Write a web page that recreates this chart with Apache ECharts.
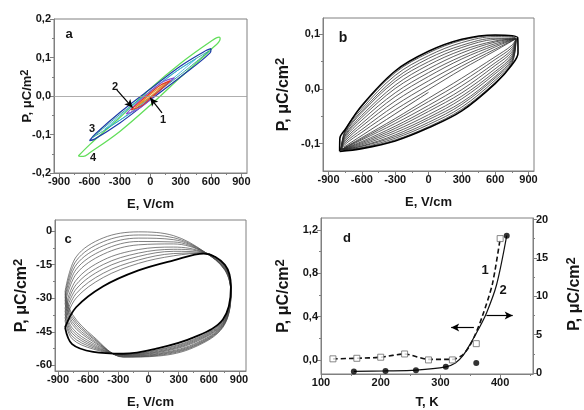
<!DOCTYPE html>
<html>
<head>
<meta charset="utf-8">
<script src="https://cdn.jsdelivr.net/npm/echarts@6/dist/echarts.min.js"></script>
<style>
  html, body { margin: 0; padding: 0; background: #fff; }
  #chart { width: 584px; height: 410px; }
</style>
</head>
<body>
<div id="chart"></div>
<script>
// ---------- panel a: P(E) loops for four field amplitudes ----------
const aLoopGreen = [[-710,-0.156],[-600,-0.127],[-300,-0.056],[0,0.019],[300,0.085],[600,0.142],[680,0.153],
  [690,0.149],[600,0.121],[300,0.049],[0,-0.024],[-300,-0.092],[-600,-0.148],[-660,-0.157],[-710,-0.156]];
const aLoopBlue = [[-600,-0.116],[-540,-0.098],[-300,-0.043],[0,0.018],[300,0.078],[550,0.118],[600,0.123],
  [590,0.112],[300,0.050],[0,-0.010],[-300,-0.070],[-550,-0.112],[-600,-0.116]];
const aLoopTeal = [[-570,-0.108],[-300,-0.048],[0,0.012],[300,0.072],[580,0.117],
  [300,0.056],[0,-0.004],[-300,-0.063],[-570,-0.108]];
const aLoopCyan = [[-450,-0.086],[-200,-0.030],[0,0.012],[200,0.054],[450,0.096],
  [200,0.040],[0,-0.004],[-200,-0.046],[-450,-0.086]];
const aLoopPurple = [[-240,-0.047],[-120,-0.016],[0,0.012],[120,0.036],[240,0.047],
  [120,0.020],[0,-0.010],[-120,-0.034],[-240,-0.047]];
const aLoopOrange = [[-150,-0.030],[0,0.004],[160,0.034],[0,-0.002],[-150,-0.030]];
const aLoopRed = [[-190,-0.036],[-90,-0.012],[0,0.008],[100,0.028],[200,0.040],
  [100,0.016],[0,-0.006],[-90,-0.026],[-190,-0.036]];
const aArrowOne = [[116,-0.044],[0,-0.005]];
const aArrowTwo = [[-330,0.016],[-175,-0.030]];

// ---------- panel b: nested loops, growing opening ----------
const bUpperE = [-750, -600, -300, 0, 300, 600];
const bLowerE = [750, 600, 300, 0, -300, -600];
const bUpperP = [
  [-0.101,-0.079,-0.038,-0.001,0.036,0.070],
  [-0.098,-0.074,-0.030,0.007,0.042,0.073],
  [-0.095,-0.068,-0.022,0.015,0.048,0.077],
  [-0.092,-0.063,-0.014,0.023,0.055,0.080],
  [-0.089,-0.057,-0.007,0.030,0.060,0.083],
  [-0.086,-0.052,0.001,0.037,0.066,0.086],
  [-0.084,-0.048,0.007,0.044,0.071,0.088],
  [-0.081,-0.043,0.014,0.050,0.076,0.091],
  [-0.079,-0.040,0.019,0.056,0.080,0.093],
  [-0.077,-0.036,0.025,0.061,0.085,0.096],
  [-0.075,-0.032,0.030,0.066,0.089,0.098],
  [-0.074,-0.030,0.033,0.069,0.091,0.099]
];
const bLowerP = [
  [0.080,0.059,0.020,-0.017,-0.054,-0.089],
  [0.076,0.054,0.013,-0.023,-0.058,-0.091],
  [0.072,0.048,0.006,-0.030,-0.063,-0.093],
  [0.068,0.043,-0.001,-0.036,-0.068,-0.096],
  [0.064,0.037,-0.007,-0.041,-0.072,-0.098],
  [0.060,0.032,-0.013,-0.047,-0.076,-0.100],
  [0.057,0.028,-0.018,-0.052,-0.080,-0.102],
  [0.054,0.023,-0.024,-0.056,-0.084,-0.104],
  [0.051,0.020,-0.028,-0.061,-0.087,-0.105],
  [0.048,0.016,-0.033,-0.065,-0.090,-0.107],
  [0.046,0.012,-0.037,-0.069,-0.093,-0.108],
  [0.044,0.010,-0.040,-0.071,-0.095,-0.109]
];
const bTipLeft = [-788, -0.111];
const bTipRight = [788, 0.092];
const bOuterTipLeft = [-800, -0.114];
const bOuterTipRight = [803, 0.094];
const bOuterRightEdge = [806, 0.066];
const bOuterLeftEdge = [-798, -0.090];
const bStartSweep = [[0,-0.006],[-760,-0.106]];

// ---------- panel c: successive cycles drifting in P ----------
const cE = [-830,-720,-450,-100,250,550,760,820,740,450,100,-250,-550,-760];
const cThinP = [
  [-27.0,-11.5,-3.0,-0.3,-2.0,-9.0,-17.5,-28.0,-43.0,-52.0,-55.8,-56.3,-47.0,-37.0],
  [-28.3,-13.3,-4.7,-1.7,-2.9,-9.1,-17.3,-27.8,-42.7,-51.6,-55.5,-56.2,-47.6,-38.1],
  [-29.6,-15.1,-6.5,-3.1,-3.8,-9.2,-17.1,-27.5,-42.4,-51.3,-55.2,-56.1,-48.1,-39.2],
  [-31.0,-17.1,-8.4,-4.6,-4.8,-9.3,-16.9,-27.3,-42.1,-50.9,-54.9,-55.9,-48.8,-40.4],
  [-32.4,-19.2,-10.3,-6.1,-5.7,-9.3,-16.7,-27.0,-41.8,-50.5,-54.6,-55.8,-49.4,-41.6],
  [-34.4,-21.9,-12.9,-8.2,-7.1,-9.5,-16.4,-26.6,-41.4,-49.9,-54.2,-55.6,-50.2,-43.2],
  [-35.8,-23.9,-14.9,-9.8,-8.1,-9.6,-16.1,-26.4,-41.1,-49.5,-53.9,-55.5,-50.9,-44.4],
  [-37.2,-25.9,-16.8,-11.3,-9.0,-9.6,-15.9,-26.1,-40.8,-49.1,-53.6,-55.3,-51.5,-45.6],
  [-38.7,-27.9,-18.8,-12.9,-10.0,-9.7,-15.7,-25.8,-40.4,-48.7,-53.2,-55.2,-52.1,-46.9],
  [-40.1,-29.9,-20.7,-14.4,-11.0,-9.8,-15.5,-25.5,-40.1,-48.3,-52.9,-55.1,-52.7,-48.1]
];
const cBoldP = [-43.0,-34.0,-24.6,-17.5,-13.0,-10.0,-15.0,-25.0,-39.5,-47.5,-52.3,-54.8,-54.0,-50.5];

// ---------- panel d: temperature dependences ----------
const dSquareT = [120,160,200,240,280,320,360,400];
const dSquareP = [0.010,0.015,0.025,0.055,0.000,0.000,0.150,1.120];
const dDashT = [120,160,200,240,280,320,337,349,358,370,387,400];
const dDashP = [0.010,0.015,0.025,0.055,0.005,0.005,0.045,0.130,0.230,0.400,0.700,1.120];
const dCircleT = [155,208,259,309,360,411];
const dCircleP = [0.2,0.25,0.35,0.8,1.3,17.9];
const dFitT = [155,208,259,309,325,338,350,363,377,394,411];
const dFitP = [0.2,0.27,0.38,0.8,1.3,2.3,3.8,5.6,7.8,11.5,17.9];
const dArrowLeft = [[356,0.30],[318,0.30]];
const dArrowRight = [[377,7.5],[421,7.5]];

// ---------- tick values ----------
const eTicks = [-900,-600,-300,0,300,600,900];
const eMinor = [-750,-450,-150,150,450,750];
const aPTicks = [-0.2,-0.1,0,0.1,0.2];
const aPMinor = [-0.15,-0.05,0.05,0.15];
const bPTicks = [-0.1,0,0.1];
const bPMinor = [-0.05,0.05];
const cPTicks = [-60,-45,-30,-15,0];
const cPMinor = [-52.5,-37.5,-22.5,-7.5];
const dTTicks = [100,200,300,400];
const dTMinor = [150,250,350,450];
const dLTicks = [0,0.4,0.8,1.2];
const dLMinor = [0.2,0.6,1.0];
const dRTicks = [0,5,10,15,20];
const dRMinor = [2.5,7.5,12.5,17.5];

const FONT = '"Liberation Sans", Arial, sans-serif';
const AX = '#808080';
const TXT = '#151515';
const comma1 = v => v.toFixed(1).replace('.', ',');

function pairs(xs, ys) { return xs.map((x, i) => [x, ys[i]]); }

function richName(size, supSize, supPad) {
  return {
    m: { fontFamily: FONT, fontWeight: 'bold', fontSize: size, color: TXT, lineHeight: size + 2, verticalAlign: 'bottom' },
    s: { fontFamily: FONT, fontWeight: 'bold', fontSize: supSize, color: TXT, lineHeight: supSize + 2, verticalAlign: 'top', padding: [0, 0, supPad, 0] }
  };
}
function nameStyle(size, supSize, supPad) {
  return { fontFamily: FONT, fontWeight: 'bold', fontSize: size, color: TXT, rich: richName(size, supSize, supPad) };
}

function mainAxis(o) {
  return {
    type: 'value', gridIndex: o.grid, min: o.min, max: o.max, position: o.pos,
    axisLine: { show: true, onZero: false, lineStyle: { color: AX, width: 1 } },
    axisTick: { show: true, inside: false, length: 4, customValues: o.ticks, lineStyle: { color: AX, width: 1 } },
    axisLabel: { show: true, customValues: o.ticks, formatter: o.fmt, margin: 3,
      fontFamily: FONT, fontWeight: 'bold', fontSize: 11, color: TXT },
    splitLine: { show: false },
    name: o.name, nameLocation: 'middle', nameGap: o.gap, nameMoveOverlap: false,
    nameTextStyle: o.nameStyle
  };
}
function minorAxis(o) {
  return {
    type: 'value', gridIndex: o.grid, min: o.min, max: o.max, position: o.pos,
    axisLine: { show: false, onZero: false },
    axisTick: { show: true, inside: false, length: 2, customValues: o.ticks, lineStyle: { color: AX, width: 1 } },
    axisLabel: { show: false },
    splitLine: { show: false }
  };
}

const xName = { fontFamily: FONT, fontWeight: 'bold', fontSize: 13, color: TXT };
const intFmt = v => String(v);

const ranges = {
  aE: [-950, 955], aP: [-0.2, 0.2],
  bE: [-950, 950], bP: [-0.15, 0.13],
  cE: [-930, 970], cP: [-62.5, 5],
  dT: [100, 455], dL: [-0.13, 1.31], dR: [-0.13, 20.2]
};

const xAxes = [
  mainAxis({ grid: 0, min: ranges.aE[0], max: ranges.aE[1], pos: 'bottom', ticks: eTicks, fmt: intFmt, name: 'E, V/cm', gap: 25, nameStyle: xName }),
  mainAxis({ grid: 1, min: ranges.bE[0], max: ranges.bE[1], pos: 'bottom', ticks: eTicks, fmt: intFmt, name: 'E, V/cm', gap: 25, nameStyle: xName }),
  mainAxis({ grid: 2, min: ranges.cE[0], max: ranges.cE[1], pos: 'bottom', ticks: eTicks, fmt: intFmt, name: 'E, V/cm', gap: 25, nameStyle: xName }),
  mainAxis({ grid: 3, min: ranges.dT[0], max: ranges.dT[1], pos: 'bottom', ticks: dTTicks, fmt: intFmt, name: 'T, K', gap: 22, nameStyle: xName }),
  minorAxis({ grid: 0, min: ranges.aE[0], max: ranges.aE[1], pos: 'bottom', ticks: eMinor }),
  minorAxis({ grid: 1, min: ranges.bE[0], max: ranges.bE[1], pos: 'bottom', ticks: eMinor }),
  minorAxis({ grid: 2, min: ranges.cE[0], max: ranges.cE[1], pos: 'bottom', ticks: eMinor }),
  minorAxis({ grid: 3, min: ranges.dT[0], max: ranges.dT[1], pos: 'bottom', ticks: dTMinor })
];
const yAxes = [
  mainAxis({ grid: 0, min: ranges.aP[0], max: ranges.aP[1], pos: 'left', ticks: aPTicks, fmt: comma1,
    name: '{m|P, μC/m}{s|2}', gap: 20, nameStyle: nameStyle(13, 11, 8) }),
  mainAxis({ grid: 1, min: ranges.bP[0], max: ranges.bP[1], pos: 'left', ticks: bPTicks, fmt: comma1,
    name: '{m|P, μC/cm}{s|2}', gap: 31, nameStyle: nameStyle(16, 13, 10) }),
  mainAxis({ grid: 2, min: ranges.cP[0], max: ranges.cP[1], pos: 'left', ticks: cPTicks, fmt: intFmt,
    name: '{m|P, μC/cm}{s|2}', gap: 25, nameStyle: nameStyle(16, 13, 10) }),
  mainAxis({ grid: 3, min: ranges.dL[0], max: ranges.dL[1], pos: 'left', ticks: dLTicks, fmt: comma1,
    name: '{m|P, μC/cm}{s|2}', gap: 29, nameStyle: nameStyle(16, 13, 10) }),
  mainAxis({ grid: 3, min: ranges.dR[0], max: ranges.dR[1], pos: 'right', ticks: dRTicks, fmt: intFmt,
    name: '', gap: 0, nameStyle: xName }),
  minorAxis({ grid: 0, min: ranges.aP[0], max: ranges.aP[1], pos: 'left', ticks: aPMinor }),
  minorAxis({ grid: 1, min: ranges.bP[0], max: ranges.bP[1], pos: 'left', ticks: bPMinor }),
  minorAxis({ grid: 2, min: ranges.cP[0], max: ranges.cP[1], pos: 'left', ticks: cPMinor }),
  minorAxis({ grid: 3, min: ranges.dL[0], max: ranges.dL[1], pos: 'left', ticks: dLMinor }),
  minorAxis({ grid: 3, min: ranges.dR[0], max: ranges.dR[1], pos: 'right', ticks: dRMinor })
];

const gridBox = { show: true, borderColor: AX, borderWidth: 1, backgroundColor: 'transparent' };
const grids = [
  Object.assign({ left: 54, top: 19, width: 193, height: 154 }, gridBox),
  Object.assign({ left: 323, top: 18, width: 211, height: 153 }, gridBox),
  Object.assign({ left: 55, top: 220, width: 191, height: 154 }, gridBox),
  Object.assign({ left: 321, top: 218, width: 212, height: 156 }, gridBox)
];

function loop(name, data, xi, yi, color, width, z) {
  return {
    name, type: 'line', xAxisIndex: xi, yAxisIndex: yi, data,
    showSymbol: false, symbol: 'none', smooth: 0.35, silent: true, animation: false,
    lineStyle: { color, width }, z: z || 2
  };
}

const arrowMark = (segs) => ({
  silent: true, symbol: ['none', 'arrow'], symbolSize: [6, 8], animation: false,
  label: { show: false },
  lineStyle: { color: '#000', width: 1.2, type: 'solid' },
  data: segs.map(s => [{ coord: s[0] }, { coord: s[1] }])
});

const series = [];

// panel a
const aGreen = loop('4', aLoopGreen, 0, 0, '#62de5a', 1.3);
aGreen.markLine = { silent: true, symbol: 'none', animation: false, label: { show: false },
  lineStyle: { color: '#9a9a9a', width: 0.8, type: 'solid' }, data: [{ yAxis: 0 }] };
series.push(aGreen);
series.push(loop('3', aLoopBlue, 0, 0, '#1c3aa8', 1.2));
series.push(loop('3b', aLoopTeal, 0, 0, '#1f9a96', 0.9));
series.push(loop('3c', aLoopCyan, 0, 0, '#38b0e0', 0.9));
series.push(loop('2', aLoopPurple, 0, 0, '#8a50d4', 1.1));
series.push(loop('1b', aLoopOrange, 0, 0, '#e6902a', 1.1));
const aRed = loop('1', aLoopRed, 0, 0, '#e03a26', 1.2);
aRed.markLine = arrowMark([aArrowOne, aArrowTwo]);
series.push(aRed);

// panel b
bUpperP.forEach((up, k) => {
  const outer = k === bUpperP.length - 1;
  let pts;
  if (outer) {
    pts = [bOuterTipLeft, bOuterLeftEdge].concat(pairs(bUpperE, up), [bOuterTipRight, bOuterRightEdge],
      pairs(bLowerE, bLowerP[k]), [bOuterTipLeft]);
  } else {
    pts = [bTipLeft].concat(pairs(bUpperE, up), [bTipRight], pairs(bLowerE, bLowerP[k]), [bTipLeft]);
  }
  series.push(loop('b' + k, pts, 1, 1, outer ? '#000' : '#2a2a2a', outer ? 1.6 : 0.75));
});
series.push(loop('b-start', bStartSweep, 1, 1, '#2a2a2a', 0.8));

// panel c
cThinP.forEach((row, k) => {
  const pts = pairs(cE, row);
  pts.push(pts[0]);
  series.push(loop('c' + k, pts, 2, 2, '#4a4a4a', 0.7));
});
{
  const pts = pairs(cE, cBoldP);
  pts.push(pts[0]);
  series.push(loop('c-last', pts, 2, 2, '#000', 1.8, 3));
}

// panel d
const dDash = {
  name: 'dash', type: 'line', xAxisIndex: 3, yAxisIndex: 3, data: pairs(dDashT, dDashP),
  showSymbol: false, symbol: 'none', smooth: 0.25, silent: true, animation: false,
  lineStyle: { color: '#111', width: 1.6, type: [5, 3] }
};
dDash.markLine = arrowMark([dArrowLeft]);
series.push(dDash);
const dFit = {
  name: 'fit', type: 'line', xAxisIndex: 3, yAxisIndex: 4, data: pairs(dFitT, dFitP),
  showSymbol: false, symbol: 'none', smooth: 0.3, silent: true, animation: false,
  lineStyle: { color: '#111', width: 1.2 }
};
dFit.markLine = arrowMark([dArrowRight]);
series.push(dFit);
series.push({
  name: 'squares', type: 'scatter', xAxisIndex: 3, yAxisIndex: 3, data: pairs(dSquareT, dSquareP),
  symbol: 'rect', symbolSize: 6, silent: true, animation: false, z: 4,
  itemStyle: { color: '#fff', borderColor: '#6a6a6a', borderWidth: 1 }
});
series.push({
  name: 'circles', type: 'scatter', xAxisIndex: 3, yAxisIndex: 4, data: pairs(dCircleT, dCircleP),
  symbol: 'circle', symbolSize: 6, silent: true, animation: false, z: 4,
  itemStyle: { color: '#000' }
});

function txt(text, x, y, size) {
  return { type: 'text', x, y, silent: true, z: 10,
    style: { text, fill: TXT, font: 'bold ' + size + 'px ' + FONT,
      textAlign: 'center', textVerticalAlign: 'middle', align: 'center', verticalAlign: 'middle' } };
}
const graphics = [
  txt('a', 69, 34, 13), txt('b', 343, 38, 14), txt('c', 68, 239, 13), txt('d', 347, 238, 13),
  txt('1', 163, 120, 11), txt('2', 115, 87, 11), txt('3', 92, 129, 11), txt('4', 93, 158, 11),
  txt('1', 485, 270, 13), txt('2', 503, 290, 13),
  // right-hand axis title of panel d, running off the right edge
  { type: 'text', x: 574, y: 294, rotation: Math.PI / 2, silent: true, z: 10,
    style: { text: '{m|P, μC/cm}{s|2}', rich: richName(16, 13, 10), fill: TXT,
      font: 'bold 16px ' + FONT,
      textAlign: 'center', textVerticalAlign: 'middle', align: 'center', verticalAlign: 'middle' } }
];

const chart = echarts.init(document.getElementById('chart'), null, { renderer: 'canvas' });
chart.setOption({
  animation: false,
  backgroundColor: '#fff',
  grid: grids,
  xAxis: xAxes,
  yAxis: yAxes,
  series,
  graphic: graphics
});
</script>
</body>
</html>
